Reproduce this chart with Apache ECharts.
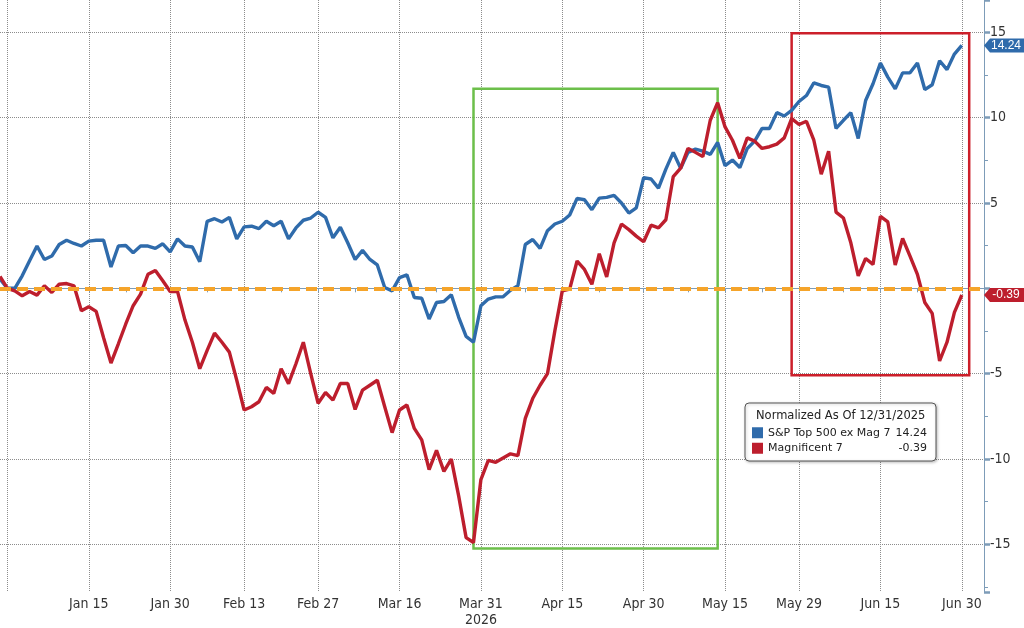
<!DOCTYPE html>
<html>
<head>
<meta charset="utf-8">
<script src="https://cdn.jsdelivr.net/npm/echarts@6/dist/echarts.min.js"></script>
<style>
html,body{margin:0;padding:0;background:#fff;}
#chart{width:1024px;height:628px;}
</style>
</head>
<body>
<div id="chart"></div>
<script>
// ---- categories: weekdays (Bloomberg-style axis) ----
const decDays = [30, 31];
const janDays = [1,2,5,6,7,8,9,12,13,14,15,16,19,20,21,22,23,26,27,28,29,30];
const febDays = [2,3,4,5,6,9,10,11,12,13,16,17,18,19,20,23,24,25,26,27];
const marDays = [2,3,4,5,6,9,10,11,12,13,16,17,18,19,20,23,24,25,26,27,30,31];
const aprDays = [1,2,3,6,7,8,9,10,13,14,15,16,17,20,21,22,23,24,27,28,29,30];
const mayDays = [1,4,5,6,7,8,11,12,13,14,15,18,19,20,21,22,25,26,27,28,29];
const junDays = [1,2,3,4,5,8,9,10,11,12,15,16,17,18,19,22,23,24,25,26,29,30];
const julDays = [1,2,3];

// ---- series values (normalized, % vs 12/31/2025) ----
const spxDec = [0.55, 0];
const spxJan = [0, 0.73, 1.62, 2.48, 1.69, 1.89, 2.57, 2.82, 2.63, 2.48, 2.77, 2.82, 2.82, 1.25, 2.48, 2.51, 2.09, 2.48, 2.48, 2.34, 2.61, 2.14];
const spxFeb = [2.9, 2.48, 2.42, 1.56, 3.93, 4.08, 3.89, 4.16, 2.9, 3.6, 3.64, 3.5, 3.93, 3.67, 3.93, 2.9, 3.54, 3.99, 4.12, 4.46];
const spxMar = [4.16, 2.96, 3.58, 2.67, 1.69, 2.22, 1.69, 1.37, 0.05, -0.15, 0.63, 0.79, -0.54, -0.58, -1.8, -0.83, -0.77, -0.38, -1.7, -2.82, -3.16, -1.02];
const spxApr = [-0.63, -0.5, -0.5, -0.11, 0.15, 2.57, 2.86, 2.34, 3.38, 3.77, 3.93, 4.3, 5.27, 5.19, 4.61, 5.29, 5.33, 5.45, 5.0, 4.41, 4.71, 6.49];
const spxMay = [6.41, 5.87, 6.99, 7.97, 7.04, 7.97, 8.16, 8.04, 7.85, 8.55, 7.19, 7.52, 7.08, 8.2, 8.63, 9.37, 9.37, 10.3, 10.1, 10.43, 10.95];
const spxJun = [11.3, 12.04, 11.89, 11.79, 9.37, 9.85, 10.3, 8.78, 11.01, 11.99, 13.21, 12.38, 11.69, 12.63, 12.63, 13.21, 11.65, 11.93, 13.34, 12.82, 13.73, 14.24];

const magDec = [0.7, 0];
const magJan = [-0.15, -0.44, -0.19, -0.4, 0.15, -0.24, 0.24, 0.28, 0.15, -1.31, -1.08, -1.35, -2.9, -4.38, -3.25, -2.09, -1.02, -0.34, 0.82, 1.05, 0.44, -0.19];
const magFeb = [-0.19, -1.86, -3.16, -4.71, -3.64, -2.63, -3.16, -3.74, -5.39, -7.13, -6.94, -6.65, -5.81, -6.16, -4.71, -5.59, -4.42, -3.16, -5.0, -6.74];
const magMar = [-6.11, -6.55, -5.58, -5.58, -7.1, -5.97, -5.68, -5.39, -6.94, -8.46, -7.13, -6.84, -8.21, -8.88, -10.63, -9.5, -10.73, -10.01, -12.18, -14.61, -14.9, -11.21];
const magApr = [-10.09, -10.2, -9.95, -9.7, -9.81, -7.62, -6.46, -5.68, -5.0, -2.48, -0.15, -0.05, 1.6, 1.11, 0.24, 2.03, 0.67, 2.67, 3.77, 3.44, 3.06, 2.73];
const magMay = [3.7, 3.54, 4.02, 6.55, 7.04, 8.2, 7.97, 7.72, 9.85, 10.88, 9.46, 8.68, 7.62, 8.82, 8.63, 8.2, 8.3, 8.45, 8.82, 9.95, 9.6];
const magJun = [9.79, 8.68, 6.69, 8.04, 4.47, 4.12, 2.67, 0.73, 1.75, 1.4, 4.22, 3.89, 1.37, 2.92, 1.89, 0.82, -0.83, -1.47, -4.26, -3.16, -1.41, -0.39];

// ---- tick labels ----
const tickLabels = ['Jan 15','Jan 30','Feb 13','Feb 27','Mar 16','Mar 31','Apr 15','Apr 30','May 15','May 29','Jun 15','Jun 30'];
const gridDates = ['Dec 31'].concat(tickLabels);
const minorTickDates = ['Jan 8','Jan 22','Feb 6','Feb 20','Mar 6','Mar 23','Apr 8','Apr 22','May 8','May 22','Jun 8','Jun 22'];
const yearLabel = '2026';
const yearUnder = 'Mar 31';
const legendTitle = 'Normalized As Of 12/31/2025';
const nameSpx = 'S&P Top 500 ex Mag 7';
const nameMag = 'Magnificent 7';

// annotation boxes (in data terms)
const greenBox = [{xAxis: 'Mar 30', yAxis: 11.7}, {xAxis: 'May 14', yAxis: -15.25}];
const redBox = [{xAxis: 'May 28', yAxis: 14.95}, {xAxis: 'Jul 1', yAxis: -5.1}];

const categories = [].concat(
  decDays.map(d => 'Dec ' + d),
  janDays.map(d => 'Jan ' + d),
  febDays.map(d => 'Feb ' + d),
  marDays.map(d => 'Mar ' + d),
  aprDays.map(d => 'Apr ' + d),
  mayDays.map(d => 'May ' + d),
  junDays.map(d => 'Jun ' + d),
  julDays.map(d => 'Jul ' + d)
);
const spx = [].concat(spxDec, spxJan, spxFeb, spxMar, spxApr, spxMay, spxJun);
const mag = [].concat(magDec, magJan, magFeb, magMar, magApr, magMay, magJun);
const spxLast = spx[spx.length - 1];
const magLast = mag[mag.length - 1];
const lastCat = categories[categories.length - 1];

const BLUE = '#2f6bab';
const RED = '#bd1e2d';
const AXIS = '#7d9cb8';
const GRID = '#8c8c8c';
const NARROW = '"Liberation Sans Narrow","Arial Narrow","DejaVu Sans Condensed",sans-serif';
const LEG = '"DejaVu Sans",sans-serif';

const tagPath = 'path://M0,7 L6,0 L40,0 L40,14 L6,14 Z';
function tag(color, value) {
  return {
    symbol: tagPath,
    symbolSize: [40, 14],
    symbolKeepAspect: false,
    symbolOffset: [20, 0],
    silent: true,
    itemStyle: {color: color},
    label: {show: true, position: 'inside', offset: [2, 0], color: '#fff', fontSize: 12,
      fontFamily: '"Liberation Sans",Arial,sans-serif', formatter: () => value.toFixed(2)},
    data: [{coord: [lastCat, value], value: value}]
  };
}

const chart = echarts.init(document.getElementById('chart'), null, {renderer: 'canvas'});
chart.setOption({
  animation: false,
  backgroundColor: '#fff',
  grid: {left: -1, right: 40, top: 0, bottom: 31, containLabel: false},
  title: {
    text: legendTitle, left: 756, top: 410, padding: 0, z: 20,
    textStyle: {fontFamily: LEG, fontSize: 11.5, fontWeight: 'normal', color: '#222'}
  },
  legend: {
    left: 745, top: 403, orient: 'vertical', selectedMode: false,
    icon: 'rect', itemWidth: 11, itemHeight: 11, itemGap: 0,
    padding: [22, 9, 5, 7],
    backgroundColor: '#fff', borderColor: '#555', borderWidth: 1, borderRadius: 4,
    shadowColor: 'rgba(0,0,0,0.25)', shadowBlur: 3, shadowOffsetX: 1, shadowOffsetY: 1,
    data: [nameSpx, nameMag],
    formatter: name => '{n|' + name + '}{v|' + (name === nameSpx ? spxLast : magLast).toFixed(2) + '}',
    textStyle: {
      fontFamily: LEG, fontSize: 11, color: '#222', lineHeight: 15.5,
      rich: {
        n: {width: 127, fontFamily: LEG, fontSize: 11, color: '#222'},
        v: {width: 32, align: 'right', fontFamily: LEG, fontSize: 11, color: '#222'}
      }
    }
  },
  xAxis: {
    type: 'category',
    data: categories,
    boundaryGap: false,
    axisLine: {show: true, lineStyle: {color: AXIS, width: 1}},
    axisTick: {
      show: true, length: 4, inside: false,
      interval: (i, v) => gridDates.includes(v) || minorTickDates.includes(v),
      lineStyle: {color: AXIS}
    },
    axisLabel: {
      interval: (i, v) => tickLabels.includes(v),
      formatter: v => v === yearUnder ? v + '\n' + yearLabel : v,
      margin: 4, color: '#333', fontSize: 14, lineHeight: 16, fontFamily: NARROW
    },
    splitLine: {
      show: true,
      interval: (i, v) => gridDates.includes(v),
      lineStyle: {color: GRID, type: 'dotted', width: 1}
    }
  },
  yAxis: {
    type: 'value',
    position: 'right',
    min: -17.8, max: 16.9,
    splitNumber: 7, minInterval: 5, maxInterval: 5,
    axisLine: {show: true, lineStyle: {color: AXIS, width: 1}},
    axisTick: {show: true, length: 6, lineStyle: {color: AXIS, width: 2.5}},
    minorTick: {show: true, splitNumber: 2, length: 4, lineStyle: {color: AXIS, width: 1}},
    axisLabel: {
      showMinLabel: false, showMaxLabel: false, margin: 6,
      color: '#333', fontSize: 14, fontFamily: NARROW,
      formatter: v => (v % 5 === 0 && v !== 0) ? String(v) : ''
    },
    splitLine: {show: true, showMinLine: false, showMaxLine: false, lineStyle: {color: GRID, type: 'dotted', width: 1}}
  },
  series: [
    {
      name: nameSpx, type: 'line', data: spx, showSymbol: false, symbol: 'none',
      color: BLUE, lineStyle: {color: BLUE, width: 3.4}, z: 3,
      markPoint: tag(BLUE, spxLast),
      markArea: {
        silent: true,
        itemStyle: {color: 'rgba(0,0,0,0)', borderColor: '#6cbf4a', borderWidth: 2.5},
        label: {show: false},
        data: [greenBox]
      }
    },
    {
      name: nameMag, type: 'line', data: mag, showSymbol: false, symbol: 'none',
      color: RED, lineStyle: {color: RED, width: 3.4}, z: 4,
      markPoint: tag(RED, magLast),
      markArea: {
        silent: true,
        itemStyle: {color: 'rgba(0,0,0,0)', borderColor: '#cc1f2a', borderWidth: 2.5},
        label: {show: false},
        data: [redBox]
      },
      markLine: {
        silent: true, symbol: 'none',
        label: {show: false},
        lineStyle: {color: '#f5a42a', type: [11, 6], width: 3.8},
        data: [{yAxis: 0}]
      }
    }
  ]
});
</script>
</body>
</html>
